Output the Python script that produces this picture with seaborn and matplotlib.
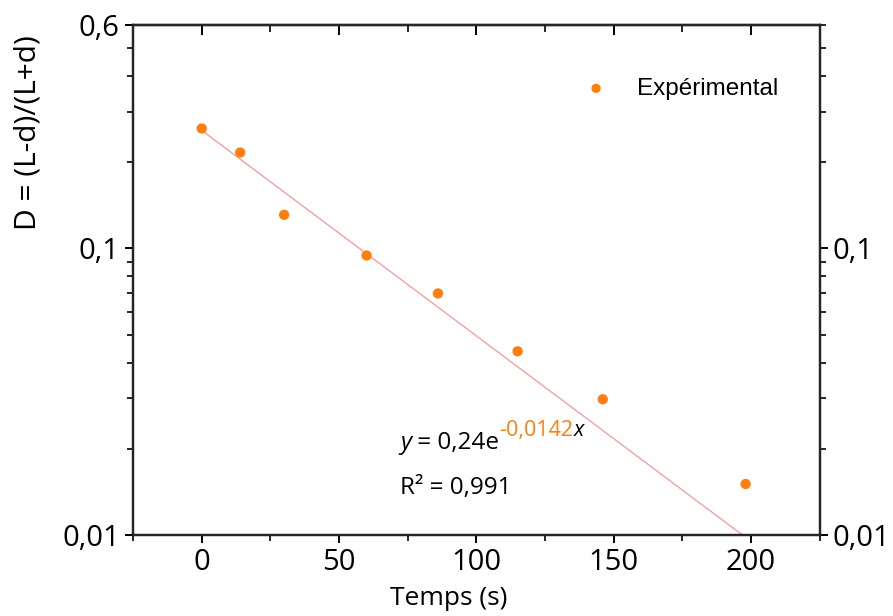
import numpy as np
import pandas as pd
import matplotlib
matplotlib.use('Agg')
import matplotlib.pyplot as plt
import seaborn as sns
from matplotlib.ticker import LogLocator, NullFormatter, FixedLocator

# données
temps = [0, 14, 30, 60, 86, 115, 146, 198]
d_values = [0.262, 0.216, 0.131, 0.0945, 0.0697, 0.0438, 0.0298, 0.0151]

# droite de tendance (extrémités)
fit_x = [0, 197]
fit_y = [0.258, 0.01]

y_ticks = [0.01, 0.1, 0.6]
y_labels = ['0,01', '0,1', '0,6']
x_ticks = [0, 50, 100, 150, 200]

orange = '#ff7f0e'
line_red = '#f4a0a0'

sns.set_style('ticks')
plt.rcParams['font.family'] = ['Open Sans', 'DejaVu Sans']
plt.rcParams['text.color'] = 'black'
plt.rcParams['axes.labelcolor'] = 'black'
plt.rcParams['xtick.color'] = 'black'
plt.rcParams['ytick.color'] = 'black'

df = pd.DataFrame({'Temps': temps, 'D': d_values})
fit_df = pd.DataFrame({'Temps': fit_x, 'D': fit_y})

fig = plt.figure(figsize=(8.93, 6.16), dpi=100)
ax = fig.add_axes([0.149, 0.131, 0.769, 0.828])

sns.lineplot(data=fit_df, x='Temps', y='D', ax=ax, color=line_red, linewidth=1.0, zorder=2)
sns.scatterplot(data=df, x='Temps', y='D', ax=ax, color=orange, s=55, edgecolor='none',
                label='Expérimental', zorder=3)

ax.set_yscale('log')
ax.set_ylim(0.01, 0.6)
ax.set_xlim(-25, 225)
ax.set_yticks(y_ticks, y_labels)
ax.yaxis.set_minor_locator(LogLocator(base=10, subs=np.arange(2, 10)))
ax.yaxis.set_minor_formatter(NullFormatter())
ax.set_xticks(x_ticks)
ax.xaxis.set_minor_locator(FixedLocator([-25, 25, 75, 125, 175, 225]))

for sp in ax.spines.values():
    sp.set_visible(True)
    sp.set_linewidth(1.6)
    sp.set_color('black')

ax.tick_params(axis='both', which='major', direction='out', length=6, width=1.4, labelsize=21)
ax.tick_params(axis='both', which='minor', direction='out', length=4, width=1.2)

# axe du haut : graduations vers l'intérieur
top = ax.secondary_xaxis('top')
top.set_xticks(x_ticks)
top.xaxis.set_minor_locator(FixedLocator([25, 75, 125, 175]))
top.tick_params(which='major', direction='in', length=7, width=1.4, labelbottom=False, labeltop=False)
top.tick_params(which='minor', direction='in', length=5, width=1.2)
top.spines['top'].set_linewidth(1.6)

# axe de droite
right = ax.twinx()
right.set_yscale('log')
right.set_ylim(0.01, 0.6)
right.set_yticks([0.01, 0.1], ['0,01', '0,1'])
right.yaxis.set_minor_locator(LogLocator(base=10, subs=np.arange(2, 10)))
right.yaxis.set_minor_formatter(NullFormatter())
right.tick_params(which='major', direction='out', length=6, width=1.4, labelsize=21)
right.tick_params(which='minor', direction='out', length=4, width=1.2)
for sp in right.spines.values():
    sp.set_linewidth(1.6)

ax.set_xlabel('Temps (s)', fontsize=19)
ax.xaxis.set_label_coords(0.46, -0.1)
ax.set_ylabel('')
fig.text(0.031, 0.785, 'D = (L-d)/(L+d)', rotation=90, fontsize=21.5, ha='center', va='center')

leg = ax.legend(loc='upper left', bbox_to_anchor=(0.607, 0.94), frameon=False,
                prop={'family': 'Liberation Sans', 'size': 17.5}, handletextpad=0.7,
                markerscale=0.9)

# équation de la tendance
t1 = ax.text(0.389, 0.157, 'y', transform=ax.transAxes, fontsize=17.5, style='italic', va='bottom')
t2 = ax.annotate(' = 0,24e', xy=(1, 0), xycoords=t1, fontsize=17.5, va='bottom')
t3 = ax.annotate('-0,0142', xy=(1, 0.6), xycoords=t2, fontsize=15.5, color=orange, va='bottom')
t4 = ax.annotate('x', xy=(1, 0), xycoords=t3, fontsize=15.5, style='italic', va='bottom')
ax.text(0.389, 0.07, 'R² = 0,991', transform=ax.transAxes, fontsize=17.5, va='bottom')

fig.savefig('out.png', dpi=100)
